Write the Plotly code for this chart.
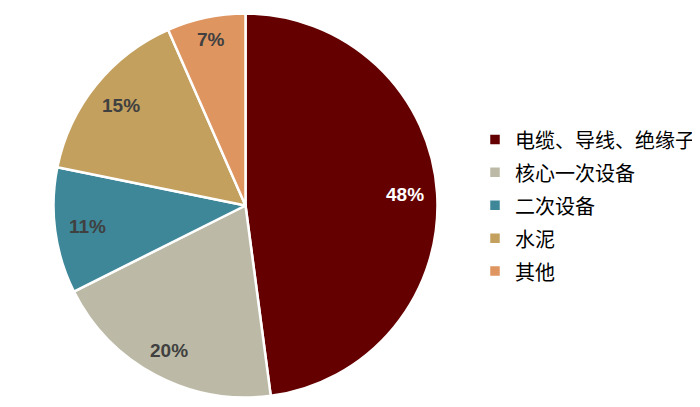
import numpy as np
import plotly.graph_objects as go

labels = ["电缆、导线、绝缘子", "核心一次设备", "二次设备", "水泥", "其他"]
values = [47.9, 19.7, 10.6, 15.2, 6.6]
colors = ["#650000", "#BCBAA6", "#3D8799", "#C3A05E", "#DE9560"]
text_colors = ["white", "#404040", "#404040", "#404040", "#404040"]

W, H = 700, 407
cx, cy, r = 237.5, 197.5, 192   # pie centre / radius in px (page has 8px body margin)
fs = 19

# legend rows are spaced like a 23px font, glyphs drawn at 20px
legend_names = [f'<span style="font-size:20px">{l}</span>' for l in labels]

fig = go.Figure(go.Pie(
    labels=legend_names, values=values, sort=False, direction="clockwise", rotation=0,
    marker=dict(colors=colors, line=dict(color="white", width=2.5)),
    textinfo="none", hoverinfo="label+percent",
    domain=dict(x=[(cx - r) / W, (cx + r) / W], y=[1 - (cy + r) / H, 1 - (cy - r) / H]),
))

# percent labels placed near the outer edge of each slice ("inside end")
vals = np.array(values)
frac = vals / vals.sum()
mid = (np.cumsum(frac) - frac / 2) * 2 * np.pi
for f, a, c in zip(frac, mid, text_colors):
    txt = f"{round(f * 100):.0f}%"
    w = (len(txt) - 1) * 0.556 * fs + 0.889 * fs
    h = 0.78 * fs
    d = r - 12.5 - (abs(w / 2 * np.sin(a)) + abs(h / 2 * np.cos(a)))
    fig.add_annotation(
        x=(cx + d * np.sin(a)) / W, y=1 - (cy - d * np.cos(a)) / H,
        xref="paper", yref="paper", text=f"<b>{txt}</b>", showarrow=False,
        xanchor="center", yanchor="middle",
        font=dict(family="Liberation Sans, Arial", size=fs, color=c),
    )

fig.update_layout(
    width=W, height=H,
    margin=dict(l=0, r=0, t=0, b=0),
    paper_bgcolor="white", plot_bgcolor="white",
    showlegend=True,
    legend=dict(x=467 / W, y=1 - 197.5 / H, xanchor="left", yanchor="middle",
                font=dict(family="Noto Sans CJK SC", size=23, color="black"),
                bgcolor="rgba(0,0,0,0)"),
)

fig.write_html("out.html")
